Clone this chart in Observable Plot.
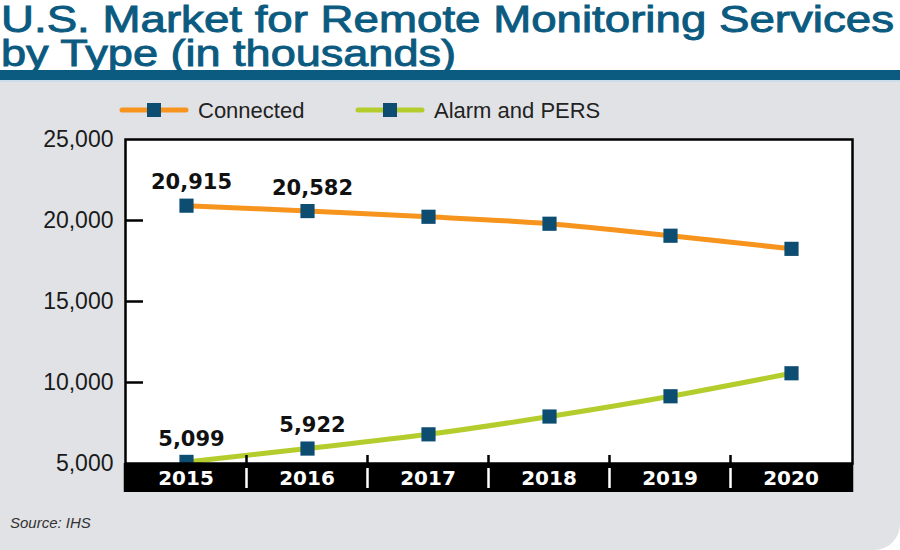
<!DOCTYPE html>
<html><head><meta charset="utf-8">
<script src="https://cdn.jsdelivr.net/npm/d3@7"></script>
<script src="https://cdn.jsdelivr.net/npm/@observablehq/plot@0.6"></script>
<style>
body{margin:0;background:#fff;}
#wrap{position:relative;width:900px;height:550px;background:#fff;overflow:hidden;font-family:"Liberation Sans",Arial,sans-serif;}
#head{position:absolute;left:0;top:0;width:900px;height:80px;overflow:visible;}
#bar{position:absolute;left:0;top:70px;width:900px;height:10px;background:#0b5a80;}
#panel{position:absolute;left:0;top:80px;width:900px;height:470px;background:#e1e2e6;border-bottom-right-radius:26px;border-top:2px solid #cbdcea;box-sizing:border-box;}
#legend{position:absolute;left:0;top:96px;width:900px;height:30px;}
#chart{position:absolute;left:0;top:80px;}
#source{position:absolute;left:10px;top:514px;font-family:"Liberation Sans Narrow","Liberation Sans",sans-serif;font-style:italic;font-size:15px;color:#333;}
</style></head>
<body>
<div id="wrap">
  <div id="bar"></div>
  <svg id="head" width="900" height="80"></svg>
  <div id="panel"></div>
  <svg id="legend" width="900" height="30"></svg>
  <div id="chart"></div>
  <div id="source"></div>
</div>
<script>
const titleLines = ["U.S. Market for Remote Monitoring Services", "by Type (in thousands)"];
const sourceText = "Source: IHS";
const years = ["2015","2016","2017","2018","2019","2020"];
const seriesNames = ["Connected","Alarm and PERS"];
const connected = [20915,20582,20230,19800,19060,18250];
const alarm = [5099,5922,6800,7900,9150,10570];
const yTicks = [5000,10000,15000,20000,25000];
const innerTicks = [10000,15000,20000];
const labelYears = ["2015","2016"];
const colors = ["#f7941d","#b5cd2c"];
const markerColor = "#0d4d71";

// header
const head = d3.select("#head");
const titleLen = [893, 455];
const titleY = [32, 66];
titleLines.forEach((t,i)=>{
  head.append("text").attr("x",1).attr("y",titleY[i]).attr("textLength",titleLen[i]).attr("lengthAdjust","spacingAndGlyphs")
    .attr("font-family","Liberation Sans Narrow, Liberation Sans, sans-serif")
    .attr("font-size",36).attr("fill","#0b5a80").attr("stroke","#0b5a80").attr("stroke-width",0.9).text(t);
});

// legend
const leg = d3.select("#legend");
const legX = [122, 358];
seriesNames.forEach((name,i)=>{
  const g = leg.append("g").attr("transform",`translate(${legX[i]},14)`);
  g.append("line").attr("x1",0).attr("x2",64).attr("stroke",colors[i]).attr("stroke-width",5).attr("stroke-linecap","round");
  g.append("rect").attr("x",25).attr("y",-7).attr("width",14).attr("height",14).attr("fill",markerColor);
  g.append("text").attr("x",76).attr("y",8).attr("font-size",22).attr("fill","#222")
    .attr("font-family","Liberation Sans, sans-serif").text(name);
});

d3.select("#source").text(sourceText);

const data = years.flatMap((y,i)=>[
  {year:y, series:seriesNames[0], value:connected[i]},
  {year:y, series:seriesNames[1], value:alarm[i]}
]);

const plot = Plot.plot({
  width:900, height:430,
  marginLeft:125, marginRight:48, marginTop:59, marginBottom:47,
  style:{background:"transparent", overflow:"visible", fontFamily:"Liberation Sans, sans-serif"},
  x:{type:"point", domain:years, padding:0.5, label:null, axis:null},
  y:{domain:[5000,25000], label:null},
  color:{domain:seriesNames, range:colors},
  marks:[
    Plot.frame({fill:"white"}),
    Plot.tickY(innerTicks, {y:d=>d, insetRight:709, stroke:"black", strokeWidth:2.5}),
    Plot.axisY({ticks:yTicks, tickSize:0, tickPadding:12, tickFormat:d3.format(","), fontSize:23, fill:"#1a1a1a"}),
    Plot.line(data, {x:"year", y:"value", z:"series", stroke:"series", strokeWidth:5, curve:"catmull-rom"}),
    Plot.dot(data, {x:"year", y:"value", symbol:"square", r:8, fill:markerColor}),
    Plot.text(data.filter(d=>labelYears.includes(d.year)), {x:"year", y:"value", text:d=>d3.format(",")(d.value), dx:5, dy:-23, fontSize:21, fontWeight:"bold", fontFamily:"DejaVu Sans, sans-serif", fill:"#111"}),
    Plot.frame({stroke:"black", strokeWidth:2.5})
  ]
});

// black year band with labels
const svg = d3.select(plot);
const xs = plot.scale("x");
const xpos = v => xs.apply(v);
const step = xpos(years[1]) - xpos(years[0]);
const left = 125, right = 900-48, bandTop = 430-47, bandBottom = bandTop + 29;
const g = svg.append("g");
g.append("rect").attr("x",left-1.25).attr("y",bandTop).attr("width",right-left+2.5).attr("height",bandBottom-bandTop).attr("fill","black");
years.slice(0,-1).forEach(y=>{
  const x = xpos(y)+step/2;
  g.append("line").attr("x1",x).attr("x2",x).attr("y1",bandTop-8).attr("y2",bandTop).attr("stroke","black").attr("stroke-width",2.5);
  g.append("line").attr("x1",x).attr("x2",x).attr("y1",bandTop+5).attr("y2",bandBottom-4).attr("stroke","white").attr("stroke-width",2.5);
});
years.forEach(y=>{
  g.append("text").attr("x",xpos(y)).attr("y",bandTop+22).attr("text-anchor","middle")
    .attr("font-family","DejaVu Sans, sans-serif").attr("font-weight","bold").attr("font-size",20)
    .attr("fill","white").text(y);
});

document.getElementById("chart").appendChild(plot);
</script>
</body></html>
